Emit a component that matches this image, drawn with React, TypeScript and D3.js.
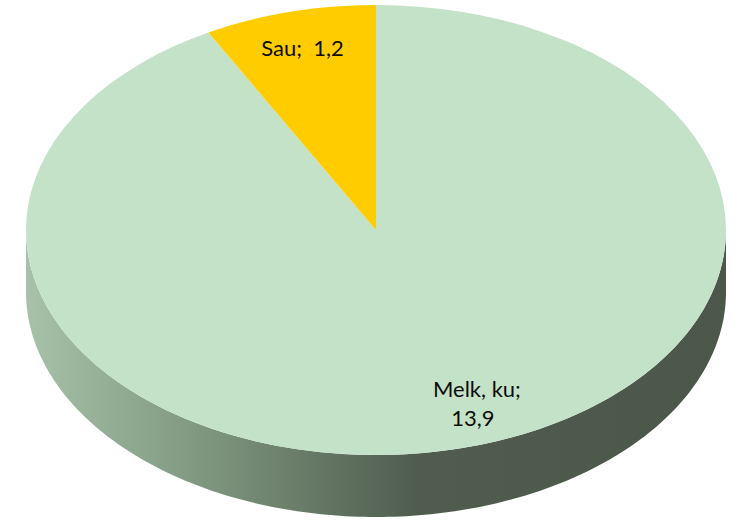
import React from "react";
import * as d3 from "d3";

// data
const categories = ["Melk, ku", "Sau"];
const values = [13.9, 1.2];
const valueLabels = ["13,9", "1,2"];
const colors = ["#c3e2c7", "#ffcc00"];

const W = 738,
  H = 521;

export default function App() {
  const cx = 376,
    cy = 230,
    rx = 350,
    ry = 225,
    depth = 62;
  const k = ry / rx;

  const pie = d3
    .pie<number>()
    .sort(null)
    .value((d) => d);
  const slices = pie(values);

  const arc = d3.arc<d3.PieArcDatum<number>>().innerRadius(0).outerRadius(rx);

  // front wall of the cake, from 3 o'clock through 6 to 9 o'clock
  const angles = d3.range(0, 181).map((i) => Math.PI / 2 + (i / 180) * Math.PI);
  const pt = (a: number, dy: number): [number, number] => [
    cx + rx * Math.sin(a),
    cy - ry * Math.cos(a) + dy,
  ];
  const top = angles.map((a) => pt(a, 0));
  const bottom = angles.map((a) => pt(a, depth)).reverse();
  const sidePath = d3.line()([...top, ...bottom]) + "Z";

  const font = "Lato, 'Open Sans', sans-serif";

  // label spots (ellipse coordinates)
  const lab = (d: d3.PieArcDatum<number>, r: number) => {
    const a = (d.startAngle + d.endAngle) / 2;
    return [cx + r * rx * Math.sin(a), cy - r * ry * Math.cos(a)];
  };
  const sau = lab(slices[1], 0.85);
  const melk = lab(slices[0], 0.82);

  return (
    <svg width={W} height={H} style={{ position: "absolute", left: 0, top: 0 }}>
      <defs>
        <linearGradient id="side" gradientUnits="userSpaceOnUse" x1={cx - rx} x2={cx + rx} y1={0} y2={0}>
          <stop offset="0" stopColor="#a7c2a9" />
          <stop offset="0.25" stopColor="#7f977f" />
          <stop offset="0.56" stopColor="#4f5c4e" />
          <stop offset="1" stopColor="#4b574a" />
        </linearGradient>
      </defs>
      <rect width={W} height={H} fill="#fff" />
      <path d={sidePath} fill="url(#side)" />
      <g transform={`translate(${cx},${cy}) scale(1,${k})`}>
        {slices.map((d, i) => (
          <path key={categories[i]} d={arc(d) || ""} fill={colors[i]} />
        ))}
      </g>
      <text
        x={sau[0]}
        y={sau[1] + 11}
        textAnchor="middle"
        fontFamily={font}
        fontSize={22}
        fill="#0d0d0d"
        style={{ whiteSpace: "pre" }}
      >
        {`${categories[1]};  ${valueLabels[1]}`}
      </text>
      <text x={melk[0] + 30} y={melk[1] - 12} textAnchor="middle" fontFamily={font} fontSize={22} fill="#0d0d0d">
        <tspan x={melk[0] + 30}>{`${categories[0]};`}</tspan>
        <tspan x={melk[0] + 26} dy={29}>
          {valueLabels[0]}
        </tspan>
      </text>
    </svg>
  );
}
